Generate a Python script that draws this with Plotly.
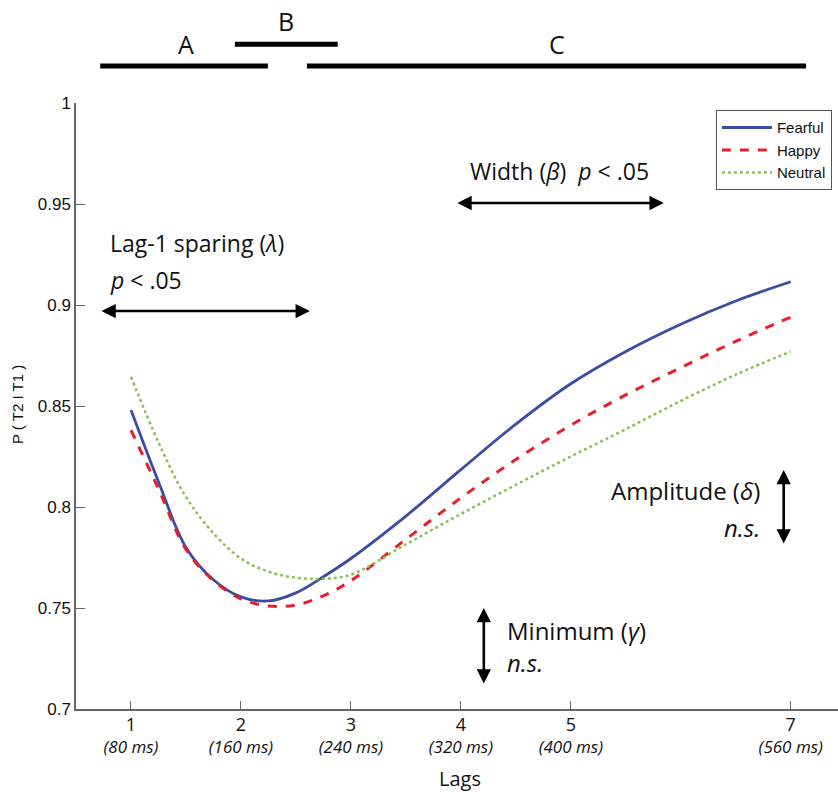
import plotly.graph_objects as go

# ---- data ----
lags = [1, 1.25, 1.5, 1.75, 2, 2.25, 2.5, 2.75, 3, 3.5, 4, 4.5, 5, 5.5, 6, 6.5, 7]
fearful = [0.848, 0.8125, 0.780, 0.764, 0.7555, 0.7535, 0.7575, 0.7655, 0.7745, 0.7955,
           0.8185, 0.841, 0.861, 0.877, 0.8905, 0.902, 0.9115]
happy = [0.838, 0.809, 0.779, 0.7635, 0.7545, 0.751, 0.7515, 0.756, 0.7635, 0.784,
         0.8045, 0.8235, 0.8405, 0.8555, 0.869, 0.882, 0.894]
neutral = [0.8645, 0.832, 0.805, 0.787, 0.7745, 0.768, 0.765, 0.7645, 0.7665, 0.7815,
           0.7965, 0.811, 0.825, 0.8385, 0.8525, 0.8655, 0.877]

tick_vals = [1, 2, 3, 4, 5, 7]
tick_main = ["1", "2", "3", "4", "5", "7"]
tick_ms = ["(80 ms)", "(160 ms)", "(240 ms)", "(320 ms)", "(400 ms)", "(560 ms)"]
y_ticks = [0.7, 0.75, 0.8, 0.85, 0.9, 0.95, 1.0]
y_tick_text = ["0.7", "0.75", "0.8", "0.85", "0.9", "0.95", "1"]

# phase segments (lag units)
phase_names = ["A", "B", "C"]
phase_start = [0.72, 1.945, 2.6]
phase_end = [2.245, 2.88, 7.14]
phase_label_x = [1.5, 2.41, 4.87]

NARROW = "Liberation Sans Narrow, Open Sans, Arial"
TEXTF = "Open Sans, Noto Sans, Arial"
ARIAL = "Arial, Liberation Sans"

fig = go.Figure()
fig.add_trace(go.Scatter(x=lags, y=fearful, mode="lines", name="Fearful", legendgroup="f",
                         line=dict(color="#3a4ca3", width=2.8, shape="spline")))
fig.add_trace(go.Scatter(x=lags, y=happy, mode="lines", name="Happy", legendgroup="h",
                         line=dict(color="#e3202c", width=3, dash="dash", shape="spline")))
fig.add_trace(go.Scatter(x=lags, y=neutral, mode="lines", name="Neutral", legendgroup="n",
                         line=dict(color="#8cc152", width=2.5, dash="dot", shape="spline")))

ticktext = [f"<span style='font-size:18px'>{m}</span><br><span style='font-size:17px'><i>{s}</i></span>"
            for m, s in zip(tick_main, tick_ms)]

fig.update_layout(
    width=838, height=792,
    margin=dict(l=76, r=0, t=103, b=83),
    plot_bgcolor="white", paper_bgcolor="white",
    showlegend=True,
    legend=dict(x=0.992, y=0.988, xanchor="right", yanchor="top",
                bordercolor="#555", borderwidth=1, bgcolor="white",
                itemwidth=50, tracegroupgap=0,
                font=dict(family=ARIAL, size=15, color="#111")),
    xaxis=dict(range=[0.5, 7.43], showgrid=False, zeroline=False,
               showline=True, linecolor="#666", linewidth=1.5,
               ticks="inside", ticklen=8, tickcolor="#666",
               tickvals=tick_vals, ticktext=ticktext,
               tickfont=dict(family=TEXTF, size=17, color="#111")),
    yaxis=dict(range=[0.7, 1.0], showgrid=False, zeroline=False,
               showline=True, linecolor="#666", linewidth=1.5,
               ticks="inside", ticklen=9, tickcolor="#666",
               tickvals=y_ticks, ticktext=y_tick_text,
               tickfont=dict(family=ARIAL, size=17, color="#111")),
)

shapes = []
annotations = []
for name, s, e, lx, yb, yl in zip(phase_names, phase_start, phase_end, phase_label_x,
                                  [1.061, 1.097, 1.061], [1.097, 1.135, 1.097]):
    shapes.append(dict(type="line", xref="x", yref="paper", x0=s, x1=e, y0=yb, y1=yb,
                       line=dict(color="black", width=5)))
    annotations.append(dict(xref="x", yref="paper", x=lx, y=yl, yanchor="middle",
                            text=name, showarrow=False,
                            font=dict(family=NARROW, size=25, color="#111")))
fig.update_layout(shapes=shapes)

def dbl_arrow(x0, y0, x1, y1):
    return dict(xref="x", yref="y", axref="x", ayref="y", x=x1, y=y1, ax=x0, ay=y0,
                text="", showarrow=True, arrowside="end+start", arrowhead=2,
                arrowsize=1.1, arrowwidth=2.6, arrowcolor="black")

annotations += [
    dbl_arrow(0.718, 0.897, 2.627, 0.897),
    dbl_arrow(3.955, 0.9505, 5.845, 0.9505),
    dbl_arrow(6.936, 0.7812, 6.936, 0.8183),
    dbl_arrow(4.209, 0.7119, 4.209, 0.750),
]

tf = dict(family=TEXTF, size=23, color="#111")
tf2 = dict(family=TEXTF, size=24, color="#111")
annotations += [
    dict(xref="x", yref="y", x=0.791, y=0.9307, xanchor="left", yanchor="middle",
         text="Lag-1 sparing (<i>λ</i>)", showarrow=False, font=tf),
    dict(xref="x", yref="y", x=0.791, y=0.9124, xanchor="left", yanchor="middle",
         text="<i>p</i> < .05", showarrow=False, font=tf),
    dict(xref="x", yref="y", x=4.9, y=0.9663, xanchor="center", yanchor="middle",
         text="Width (<i>β</i>)  <i>p</i> < .05", showarrow=False, font=tf),
    dict(xref="x", yref="y", x=6.736, y=0.8084, xanchor="right", yanchor="middle",
         text="Amplitude (<i>δ</i>)", showarrow=False, font=tf2),
    dict(xref="x", yref="y", x=6.736, y=0.790, xanchor="right", yanchor="middle",
         text="<i>n.s.</i>", showarrow=False, font=tf2),
    dict(xref="x", yref="y", x=4.4, y=0.739, xanchor="left", yanchor="middle",
         text="Minimum (<i>γ</i>)", showarrow=False, font=tf2),
    dict(xref="x", yref="y", x=4.4, y=0.7228, xanchor="left", yanchor="middle",
         text="<i>n.s.</i>", showarrow=False, font=tf2),
    dict(xref="paper", yref="paper", x=-0.076, y=0.5017, xanchor="center", yanchor="middle",
         text="P ( T2 I T1 )", textangle=-90,
         showarrow=False, font=dict(family=ARIAL, size=15, color="#111")),
    dict(xref="x", yref="paper", x=3.99, y=-0.1139, yanchor="middle", text="Lags", showarrow=False,
         font=dict(family=TEXTF, size=20, color="#111")),
]
fig.update_layout(annotations=annotations)

fig.write_html("out.html")
